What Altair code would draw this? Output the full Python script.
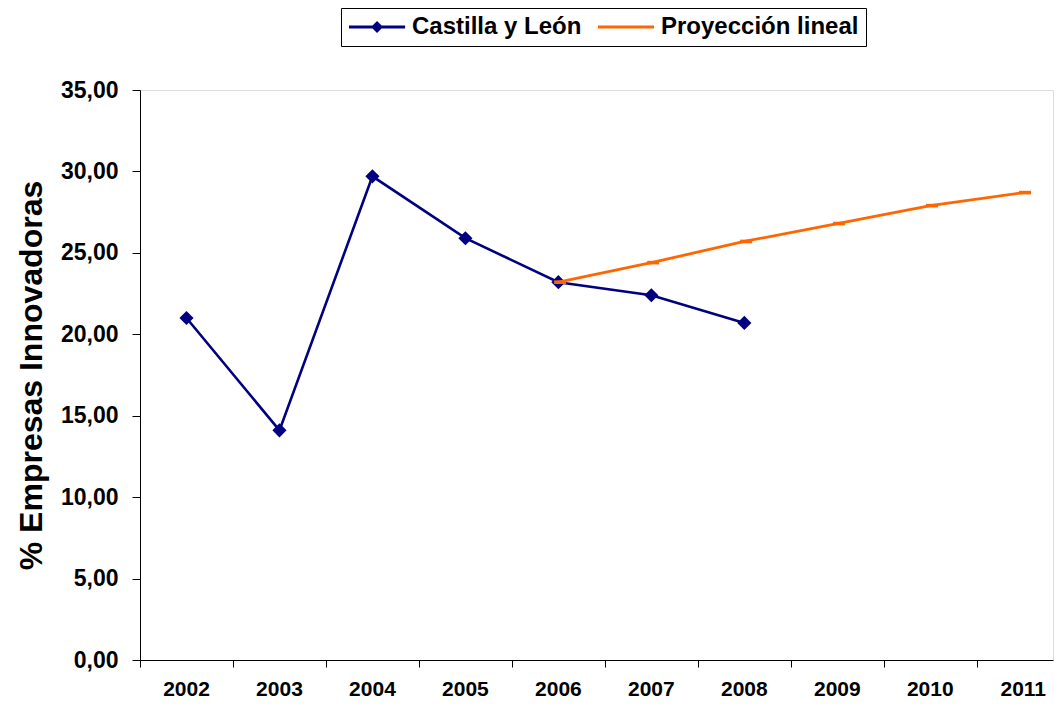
import altair as alt
import pandas as pd

# ---- data ----
years = [2002, 2003, 2004, 2005, 2006, 2007, 2008]
castilla = [21.0, 14.1, 29.7, 25.9, 23.2, 22.4, 20.7]
proj_years = [2006, 2007, 2008, 2009, 2010, 2011]
proyeccion = [23.2, 24.4, 25.7, 26.8, 27.9, 28.7]
series_names = ["Castilla y León", "Proyección lineal"]
series_colors = ["#000080", "#FF6600"]
y_ticks = [0, 5, 10, 15, 20, 25, 30, 35]
x_tick_bounds = [2001.5, 2002.5, 2003.5, 2004.5, 2005.5, 2006.5, 2007.5, 2008.5, 2009.5, 2010.5]

FONT = "Liberation Sans"
NAVY, ORANGE = series_colors

df_c = pd.DataFrame({"year": years, "value": castilla, "serie": series_names[0]})
df_p = pd.DataFrame({"year": proj_years, "value": proyeccion, "serie": series_names[1]})
df_all = pd.concat([df_c, df_p], ignore_index=True)

# legend symbols: line with diamond / plain line (custom paths, unit = 11px)
leg_line_diamond = ("M-1,-0.14L4.1,-0.14L4.1,0.14L-1,0.14Z "
                    "M1.55,-0.55L2.1,0L1.55,0.55L1.0,0Z")
leg_line = "M-1,-0.14L4.1,-0.14L4.1,0.14L-1,0.14Z"
dash_path = "M-0.7,-0.3L1.3,-0.3L1.3,0.3L-0.7,0.3Z"

x_enc = alt.X(
    "year:Q",
    scale=alt.Scale(domain=[2001.5, 2011.32], nice=False, zero=False),
    axis=alt.Axis(
        values=x_tick_bounds,
        labelExpr="toString(datum.value + 0.5)",
        labelOffset=46,
        labelFlush=False,
        labelOverlap=False,
        tickSize=7,
        labelPadding=11,
        grid=False,
        title=None,
        labelFont=FONT,
        labelFontSize=21,
        labelFontWeight="bold",
        labelColor="black",
        domainColor="black",
        tickColor="black",
    ),
)
y_enc = alt.Y(
    "value:Q",
    scale=alt.Scale(domain=[0, 35], nice=False),
    axis=alt.Axis(
        values=y_ticks,
        labelExpr="replace(format(datum.value, '.2f'), '.', ',')",
        tickSize=8,
        labelPadding=14,
        grid=False,
        title="% Empresas Innovadoras",
        titleFont=FONT,
        titleFontSize=32,
        titleFontWeight="bold",
        titleColor="black",
        titlePadding=12,
        labelFont=FONT,
        labelFontSize=23,
        labelFontWeight="bold",
        labelColor="black",
        domainColor="black",
        tickColor="black",
    ),
)

legend = alt.Legend(
    title=None,
    orient="none",
    legendX=201,
    legendY=-82,
    direction="horizontal",
    columns=2,
    symbolSize=484,
    symbolOpacity=1,
    symbolStrokeWidth=0,
    labelFont=FONT,
    labelFontSize=24,
    labelFontWeight="bold",
    labelColor="black",
    labelLimit=0,
    labelOffset=40,
    columnPadding=15,
    padding=7,
    strokeColor="black",
)

legend_layer = alt.Chart(df_all).mark_point(filled=True, opacity=0, size=1).encode(
    x=x_enc,
    y=y_enc,
    color=alt.Color("serie:N", scale=alt.Scale(domain=series_names, range=series_colors), legend=legend),
    shape=alt.Shape("serie:N", scale=alt.Scale(domain=series_names, range=[leg_line_diamond, leg_line]), legend=legend),
)

c_line = alt.Chart(df_c).mark_line(color=NAVY, strokeWidth=2.6).encode(x=x_enc, y=y_enc)
c_pts = alt.Chart(df_c).mark_point(shape="diamond", filled=True, color=NAVY, size=200, opacity=1).encode(x=x_enc, y=y_enc)
p_line = alt.Chart(df_p).mark_line(color=ORANGE, strokeWidth=2.8).encode(x=x_enc, y=y_enc)
p_pts = alt.Chart(df_p).mark_point(shape=dash_path, filled=True, color=ORANGE, size=144, opacity=1).encode(x=x_enc, y=y_enc)

chart = alt.layer(legend_layer, c_line, c_pts, p_line, p_pts).properties(
    width=913,
    height=570,
    autosize=alt.AutoSizeParams(type="none"),
    padding={"left": 132, "top": 82, "right": 2, "bottom": 47},
).configure_view(stroke=None).configure(font=FONT)

chart.save("out.html", embed_options={"renderer": "svg", "actions": False})
